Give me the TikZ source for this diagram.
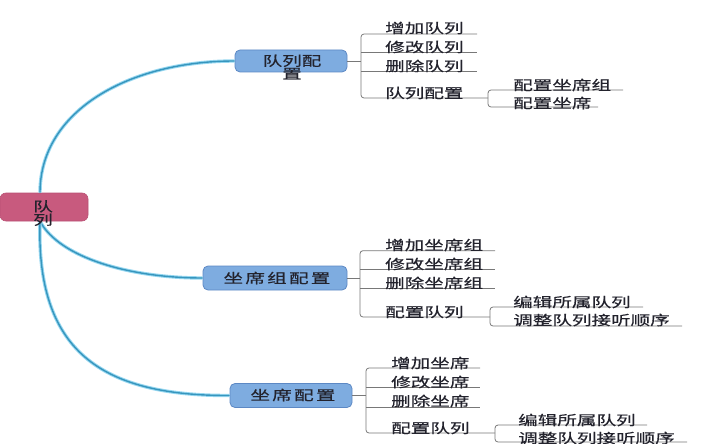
\documentclass[tikz,border=0pt]{standalone}
\usepackage{fontspec}
\newfontfamily\cjk[FakeStretch=1.45,FakeBold=0.4]{Noto Sans CJK SC}
\definecolor{rootfill}{RGB}{200,90,126}
\definecolor{rootedge}{RGB}{185,80,115}
\definecolor{boxfill}{RGB}{126,172,224}
\definecolor{boxedge}{RGB}{92,136,196}
\definecolor{glow}{RGB}{150,215,240}
\definecolor{core}{RGB}{55,150,190}
\definecolor{brc}{RGB}{120,120,120}
\definecolor{textc}{RGB}{35,35,45}
\begin{document}
\begin{tikzpicture}[x=1pt,y=-1pt,
  rootbox/.style={draw=rootedge, fill=rootfill, rounded corners=6pt, line width=0.6pt, inner sep=0pt},
  box/.style={draw=boxedge, fill=boxfill, rounded corners=5pt, line width=0.8pt, inner sep=0pt},
  lbl/.style={font=\cjk\fontsize{13.5}{13}\selectfont, text=textc, inner sep=0pt, anchor=west},
  boxlbl/.style={font=\cjk\fontsize{13.5}{10}\selectfont, text=textc, inner sep=0pt, align=center, anchor=center},
  br/.style={draw=brc, line width=0.8pt, rounded corners=3pt},
  curve/.style={draw=glow, line width=1pt, double=core, double distance=1.4pt}]

\useasboundingbox (0,0) rectangle (720,444);

% main boxes
\node[rootbox, minimum width=88pt, minimum height=28pt] (root) at (44,207) {};
\node[box, minimum width=112pt, minimum height=22pt] (n1) at (291,61) {};
\node[box, minimum width=144pt, minimum height=24pt] (n2) at (275,278) {};
\node[box, minimum width=122pt, minimum height=24pt] (n3) at (291,395.5) {};

% curves
\draw[curve] ([xshift=-4pt]root.north) .. controls (40,110) and (130,61) .. (n1.west);
\draw[curve] ([xshift=-4pt]root.south) .. controls (60,258) and (130,278) .. (n2.west);
\draw[curve] ([xshift=-4pt]root.south) .. controls (36,350) and (100,396) .. (n3.west);

% box texts
\node[boxlbl, font=\cjk\fontsize{13.5}{12}\selectfont] (rootT) at (43,213) {队\\列};
\node[boxlbl] (n1T) at (292,67) {队列配\\置};
\node[boxlbl] (n2T) at (277,278) {坐\,席\,组\,配\,置};
\node[boxlbl] (n3T) at (293,395) {坐\,席\,配\,置};

% ---------- group 1 ----------
\coordinate (b1) at (361,61);
\draw[br] (n1.east) -- (b1);
\draw[br] (477,34) -- (361,34) -- (361,98) -- (488,98);
\draw[br] (361,52.7) -- (477,52.7);
\draw[br] (361,71.7) -- (477,71.7);
\node[lbl] (a1) at (385,28) {增加队列};
\node[lbl] (a2) at (385,47) {修改队列};
\node[lbl] (a3) at (385,66) {删除队列};
\node[lbl] (a4) at (385,93) {队列配置};
\draw[br] (623,90) -- (488,90) -- (488,107) -- (598,107);
\node[lbl] (a41) at (513,85) {配置坐席组};
\node[lbl] (a42) at (513,103) {配置坐席};

% ---------- group 2 ----------
\coordinate (b2) at (360,278);
\draw[br] (n2.east) -- (b2);
\draw[br] (495,250.7) -- (360,250.7) -- (360,317) -- (490,317);
\draw[br] (360,269) -- (495,269);
\draw[br] (360,288) -- (495,288);
\node[lbl] (c1) at (385,245) {增加坐席组};
\node[lbl] (c2) at (385,264) {修改坐席组};
\node[lbl] (c3) at (385,283) {删除坐席组};
\node[lbl] (c4) at (385,312) {配置队列};
\draw[br] (643,307) -- (490,307) -- (490,326) -- (682,326);
\node[lbl] (c41) at (513,302) {编辑所属队列};
\node[lbl] (c42) at (513,320) {调整队列接听顺序};

% ---------- group 3 ----------
\coordinate (b3) at (366,395.5);
\draw[br] (n3.east) -- (b3);
\draw[br] (480,368) -- (366,368) -- (366,433) -- (495,433);
\draw[br] (366,387) -- (480,387);
\draw[br] (366,407) -- (480,407);
\node[lbl] (d1) at (391,363) {增加坐席};
\node[lbl] (d2) at (391,382) {修改坐席};
\node[lbl] (d3) at (391,401) {删除坐席};
\node[lbl] (d4) at (391,428) {配置队列};
\draw[br] (647,425) -- (495,425) -- (495,442) -- (687,442);
\node[lbl] (d41) at (518,420) {编辑所属队列};
\node[lbl] (d42) at (518,438) {调整队列接听顺序};
\end{tikzpicture}
\end{document}
